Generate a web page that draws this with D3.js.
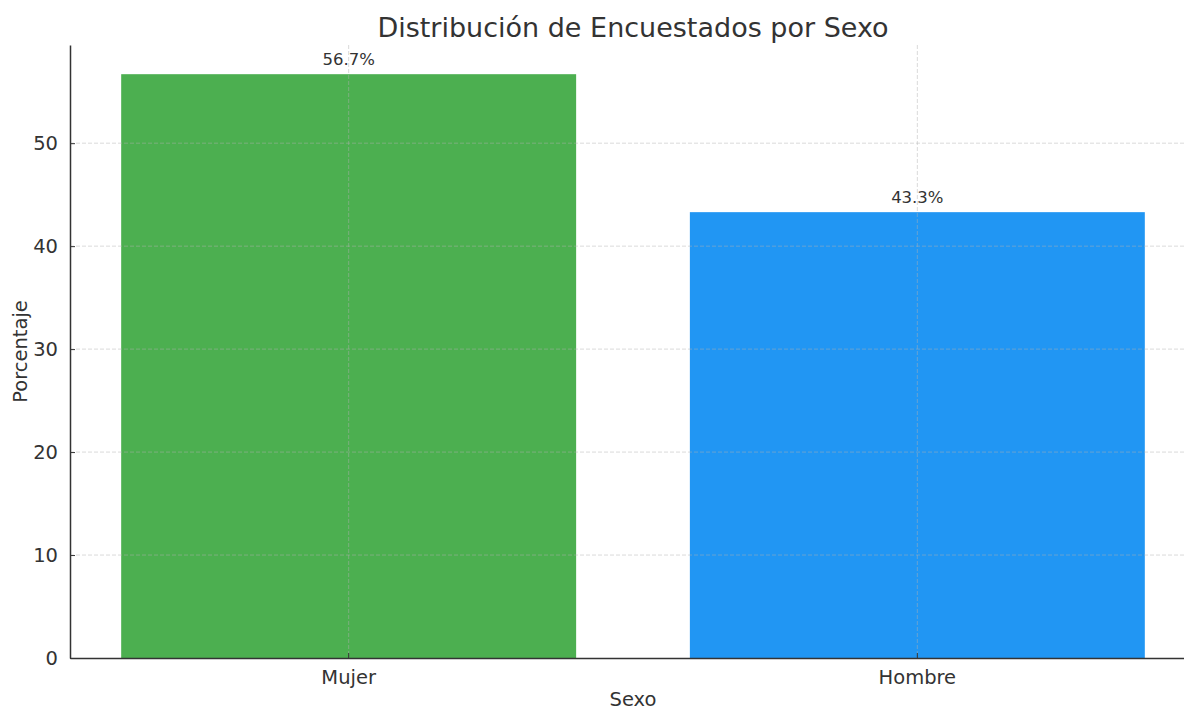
<!DOCTYPE html>
<html>
<head>
<meta charset="utf-8">
<script src="https://cdn.jsdelivr.net/npm/d3@7"></script>
<style>
  body { margin: 0; background: #fff; }
  text { font-family: "DejaVu Sans", sans-serif; fill: #333; }
</style>
</head>
<body>
<div id="chart"></div>
<script>
const categories = ["Mujer", "Hombre"];
const values = [56.7, 43.3];
const colors = ["#4CAF50", "#2196F3"];
const yTicks = [0, 10, 20, 30, 40, 50];

const width = 1184;
const height = 711;
const marginLeft = 70;
const marginRight = -12;
const marginTop = 45;
const marginBottom = 53;

const svg = d3.select("#chart")
    .append("svg")
    .attr("width", width)
    .attr("height", height);

const x = d3.scaleBand()
    .domain(categories)
    .range([marginLeft, width - marginRight])
    .paddingInner(0.2)
    .paddingOuter(0.09);

const y = d3.scaleLinear()
    .domain([0, d3.max(values) * 1.05])
    .range([height - marginBottom, marginTop]);

// bars
svg.append("g")
    .selectAll("rect")
    .data(categories)
    .join("rect")
    .attr("x", d => x(d))
    .attr("y", (d, i) => y(values[i]))
    .attr("width", x.bandwidth())
    .attr("height", (d, i) => y(0) - y(values[i]))
    .attr("fill", (d, i) => colors[i]);

// grid on top of bars
const grid = svg.append("g")
    .attr("stroke", "#b0b0b0")
    .attr("stroke-opacity", 0.6)
    .attr("stroke-dasharray", "4,2")
    .attr("stroke-width", 0.8);

grid.selectAll("line.h")
    .data(yTicks.slice(1))
    .join("line")
    .attr("class", "h")
    .attr("x1", marginLeft)
    .attr("x2", width)
    .attr("y1", d => y(d))
    .attr("y2", d => y(d));

grid.selectAll("line.v")
    .data(categories)
    .join("line")
    .attr("class", "v")
    .attr("x1", d => x(d) + x.bandwidth() / 2)
    .attr("x2", d => x(d) + x.bandwidth() / 2)
    .attr("y1", marginTop)
    .attr("y2", y(0));

// value labels
svg.append("g")
    .selectAll("text")
    .data(categories)
    .join("text")
    .attr("x", d => x(d) + x.bandwidth() / 2)
    .attr("y", (d, i) => y(values[i]) - 9)
    .attr("text-anchor", "middle")
    .attr("font-size", 16.5)
    .text((d, i) => values[i].toFixed(1) + "%");

// axes
svg.append("g")
    .attr("transform", `translate(${marginLeft},0)`)
    .call(d3.axisLeft(y).tickValues(yTicks).tickSize(-5).tickPadding(12).tickSizeOuter(0))
    .call(g => g.selectAll(".tick text").attr("font-size", 19.5).attr("fill", "#333"))
    .call(g => g.selectAll("line, path").attr("stroke", "#333"))
    .call(g => g.select(".domain").attr("stroke-width", 1.5));

svg.append("g")
    .attr("transform", `translate(0,${height - marginBottom})`)
    .call(d3.axisBottom(x).tickSize(-5).tickPadding(12).tickSizeOuter(0))
    .call(g => g.selectAll(".tick text").attr("font-size", 19.5).attr("fill", "#333"))
    .call(g => g.selectAll("line, path").attr("stroke", "#333"))
    .call(g => g.select(".domain").attr("stroke-width", 1.5));

// titles
svg.append("text")
    .attr("x", (marginLeft + width - marginRight) / 2)
    .attr("y", 37)
    .attr("text-anchor", "middle")
    .attr("font-size", 27)
    .text("Distribución de Encuestados por Sexo");

svg.append("text")
    .attr("x", (marginLeft + width - marginRight) / 2)
    .attr("y", 706)
    .attr("text-anchor", "middle")
    .attr("font-size", 19.5)
    .text("Sexo");

svg.append("text")
    .attr("transform", `translate(27,${(marginTop + height - marginBottom) / 2}) rotate(-90)`)
    .attr("text-anchor", "middle")
    .attr("font-size", 19.5)
    .text("Porcentaje");
</script>
</body>
</html>
